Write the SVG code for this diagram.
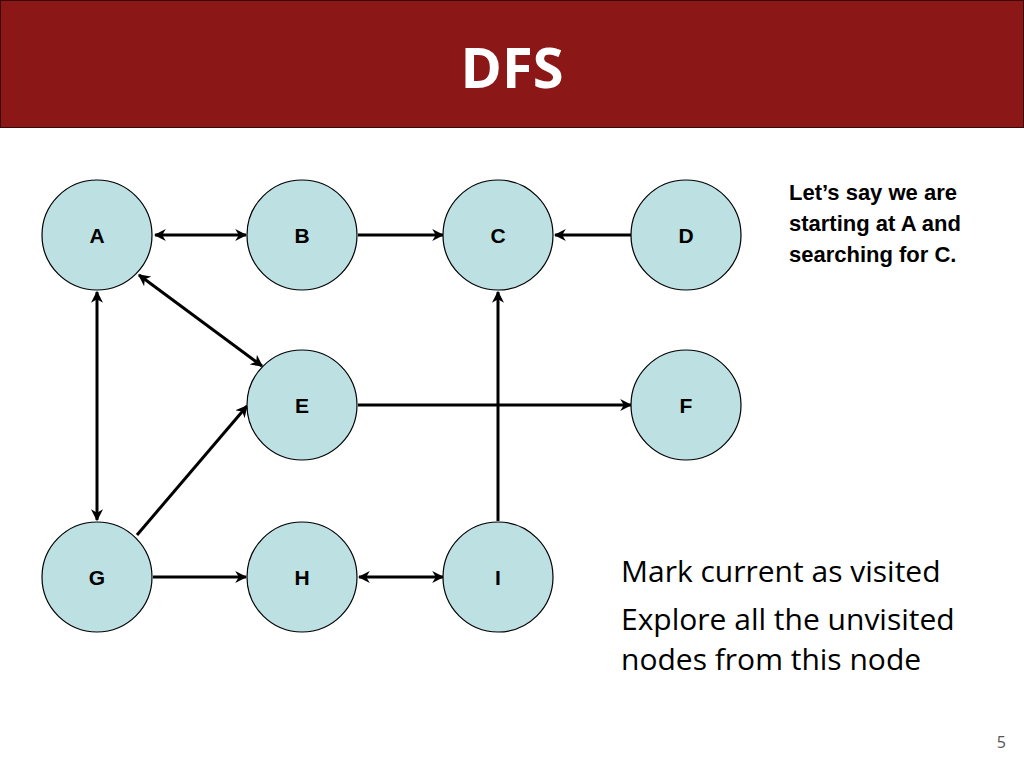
<svg xmlns="http://www.w3.org/2000/svg" width="1024" height="768" viewBox="0 0 1024 768">
<style>
.n{fill:#bde0e3;stroke:#000;stroke-width:1.2}
.l{font-family:"Liberation Sans",Arial,sans-serif;font-weight:bold;font-size:21px;text-anchor:middle}
.e{stroke:#000;stroke-width:3;fill:none}
.s{font-family:"Open Sans",sans-serif;font-size:30px}
.b{font-family:"Liberation Sans",Arial,sans-serif;font-weight:bold;font-size:22px}
</style>
<defs>
<marker id="ar" viewBox="0 0 10 10" refX="9" refY="5" markerWidth="4" markerHeight="4" orient="auto-start-reverse"><path d="M0,0 L10,5 L0,10 L3,5 z" fill="#000"/></marker>
</defs>
<rect x="0" y="0" width="1024" height="768" fill="#fff"/>
<rect x="0.5" y="0.5" width="1023" height="127" fill="#8b1717" stroke="#3a0a0a"/>
<text x="512" y="88" text-anchor="middle" font-family="Open Sans,sans-serif" font-weight="bold" font-size="56" fill="#fff">DFS</text>
<g id="edges">
<line class="e" x1="155" y1="235" x2="246" y2="235" marker-start="url(#ar)" marker-end="url(#ar)"/>
<line class="e" x1="358" y1="235" x2="443" y2="235" marker-end="url(#ar)"/>
<line class="e" x1="631" y1="235" x2="555" y2="235" marker-end="url(#ar)"/>
<line class="e" x1="139" y1="275" x2="262" y2="366" marker-start="url(#ar)" marker-end="url(#ar)"/>
<line class="e" x1="97" y1="292" x2="97" y2="520" marker-start="url(#ar)" marker-end="url(#ar)"/>
<line class="e" x1="137" y1="535" x2="247" y2="406" marker-end="url(#ar)"/>
<line class="e" x1="358" y1="405" x2="631" y2="405" marker-end="url(#ar)"/>
<line class="e" x1="498" y1="521" x2="498" y2="292" marker-end="url(#ar)"/>
<line class="e" x1="153" y1="577" x2="246" y2="577" marker-end="url(#ar)"/>
<line class="e" x1="359" y1="577" x2="443" y2="577" marker-start="url(#ar)" marker-end="url(#ar)"/>
</g>
<g id="A"><circle class="n" cx="97" cy="235" r="55"/><text class="l" x="97" y="243">A</text></g>
<g id="B"><circle class="n" cx="302" cy="235" r="55"/><text class="l" x="302" y="243">B</text></g>
<g id="C"><circle class="n" cx="498" cy="235" r="55"/><text class="l" x="498" y="243">C</text></g>
<g id="D"><circle class="n" cx="686" cy="235" r="55"/><text class="l" x="686" y="243">D</text></g>
<g id="E"><circle class="n" cx="302" cy="405" r="55"/><text class="l" x="302" y="413">E</text></g>
<g id="F"><circle class="n" cx="686" cy="405" r="55"/><text class="l" x="686" y="413">F</text></g>
<g id="G"><circle class="n" cx="97" cy="577" r="55"/><text class="l" x="97" y="585">G</text></g>
<g id="H"><circle class="n" cx="302" cy="577" r="55"/><text class="l" x="302" y="585">H</text></g>
<g id="I"><circle class="n" cx="498" cy="577" r="55"/><text class="l" x="498" y="585">I</text></g>
<text class="b" x="789" y="200">Let’s say we are</text>
<text class="b" x="789" y="231">starting at A and</text>
<text class="b" x="789" y="262">searching for C.</text>
<text class="s" x="621" y="582">Mark current as visited</text>
<text class="s" x="621" y="630">Explore all the unvisited</text>
<text class="s" x="621" y="670">nodes from this node</text>
<text x="1006" y="748" text-anchor="end" font-family="Open Sans,sans-serif" font-size="16" fill="#555">5</text>
</svg>
